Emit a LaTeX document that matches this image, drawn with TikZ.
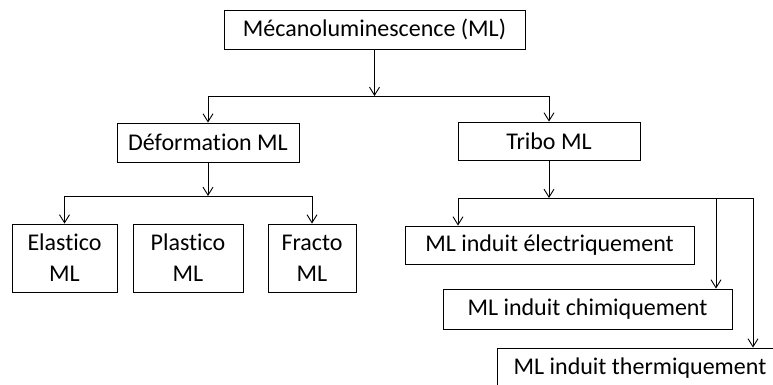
\documentclass[tikz,border=0pt]{standalone}
\usepackage{fontspec}
\setmainfont{Carlito}[Ligatures=NoCommon]
\usetikzlibrary{arrows.meta}

\begin{document}
\begin{tikzpicture}[x=1pt,y=-1pt,
  box/.style={draw,line width=0.9pt,inner sep=0pt,align=center,font=\fontsize{24}{31}\selectfont},
  arr/.style={line width=0.9pt,-{Straight Barb[length=8pt,width=10pt]}},
  lien/.style={line width=0.9pt}]

\useasboundingbox (0,0) rectangle (773,385);
\clip (0,0) rectangle (773,385);

% niveau 1
\node[box,minimum width=301pt,minimum height=39pt] (meca) at (374.5,29.5) {Mécanoluminescence (ML)};

% niveau 2
\node[box,minimum width=182pt,minimum height=39pt] (defo) at (208,142.5) {Déformation ML};
\node[box,minimum width=182pt,minimum height=38pt] (tribo) at (549,141) {Tribo ML};

% niveau 3 (deformation)
\node[box,minimum width=105pt,minimum height=68pt] (elas) at (64.5,258) {Elastico\\ML};
\node[box,minimum width=110pt,minimum height=68pt] (plas) at (188,258) {Plastico\\ML};
\node[box,minimum width=88pt,minimum height=68pt] (frac) at (312,258) {Fracto\\ML};

% niveau 3 (tribo)
\node[box,minimum width=289pt,minimum height=38pt] (elec) at (549.5,245) {ML induit électriquement};
\node[box,minimum width=289pt,minimum height=40pt] (chim) at (587.5,309) {ML induit chimiquement};
\node[box,minimum width=286pt,minimum height=40pt] (therm) at (640,368) {ML induit thermiquement};

% points de branchement
\coordinate (b1) at (374.5,96);
\coordinate (b1g) at (208,96);
\coordinate (b1d) at (549,96);
\coordinate (b2) at (208,196);
\coordinate (b2g) at (64.5,196);
\coordinate (b2d) at (312,196);
\coordinate (b3) at (549,198);
\coordinate (b3g) at (458,198);
\coordinate (b3m) at (716,198);
\coordinate (b3d) at (753,198);

\draw[arr] (meca) -- (b1);
\draw[lien] (b1g) -- (b1d);
\draw[arr] (b1g) -- (defo);
\draw[arr] (b1d) -- (tribo);

\draw[arr] (defo) -- (b2);
\draw[lien] (b2g) -- (b2d);
\draw[arr] (b2g) -- (elas);
\draw[arr] (b2d) -- (frac);

\draw[arr] (tribo) -- (b3);
\draw[lien] (b3g) -- (b3d);
\draw[arr] (b3g) -- (b3g |- elec.north);
\draw[arr] (b3m) -- (b3m |- chim.north);
\draw[arr] (b3d) -- (b3d |- therm.north);
\end{tikzpicture}
\end{document}
